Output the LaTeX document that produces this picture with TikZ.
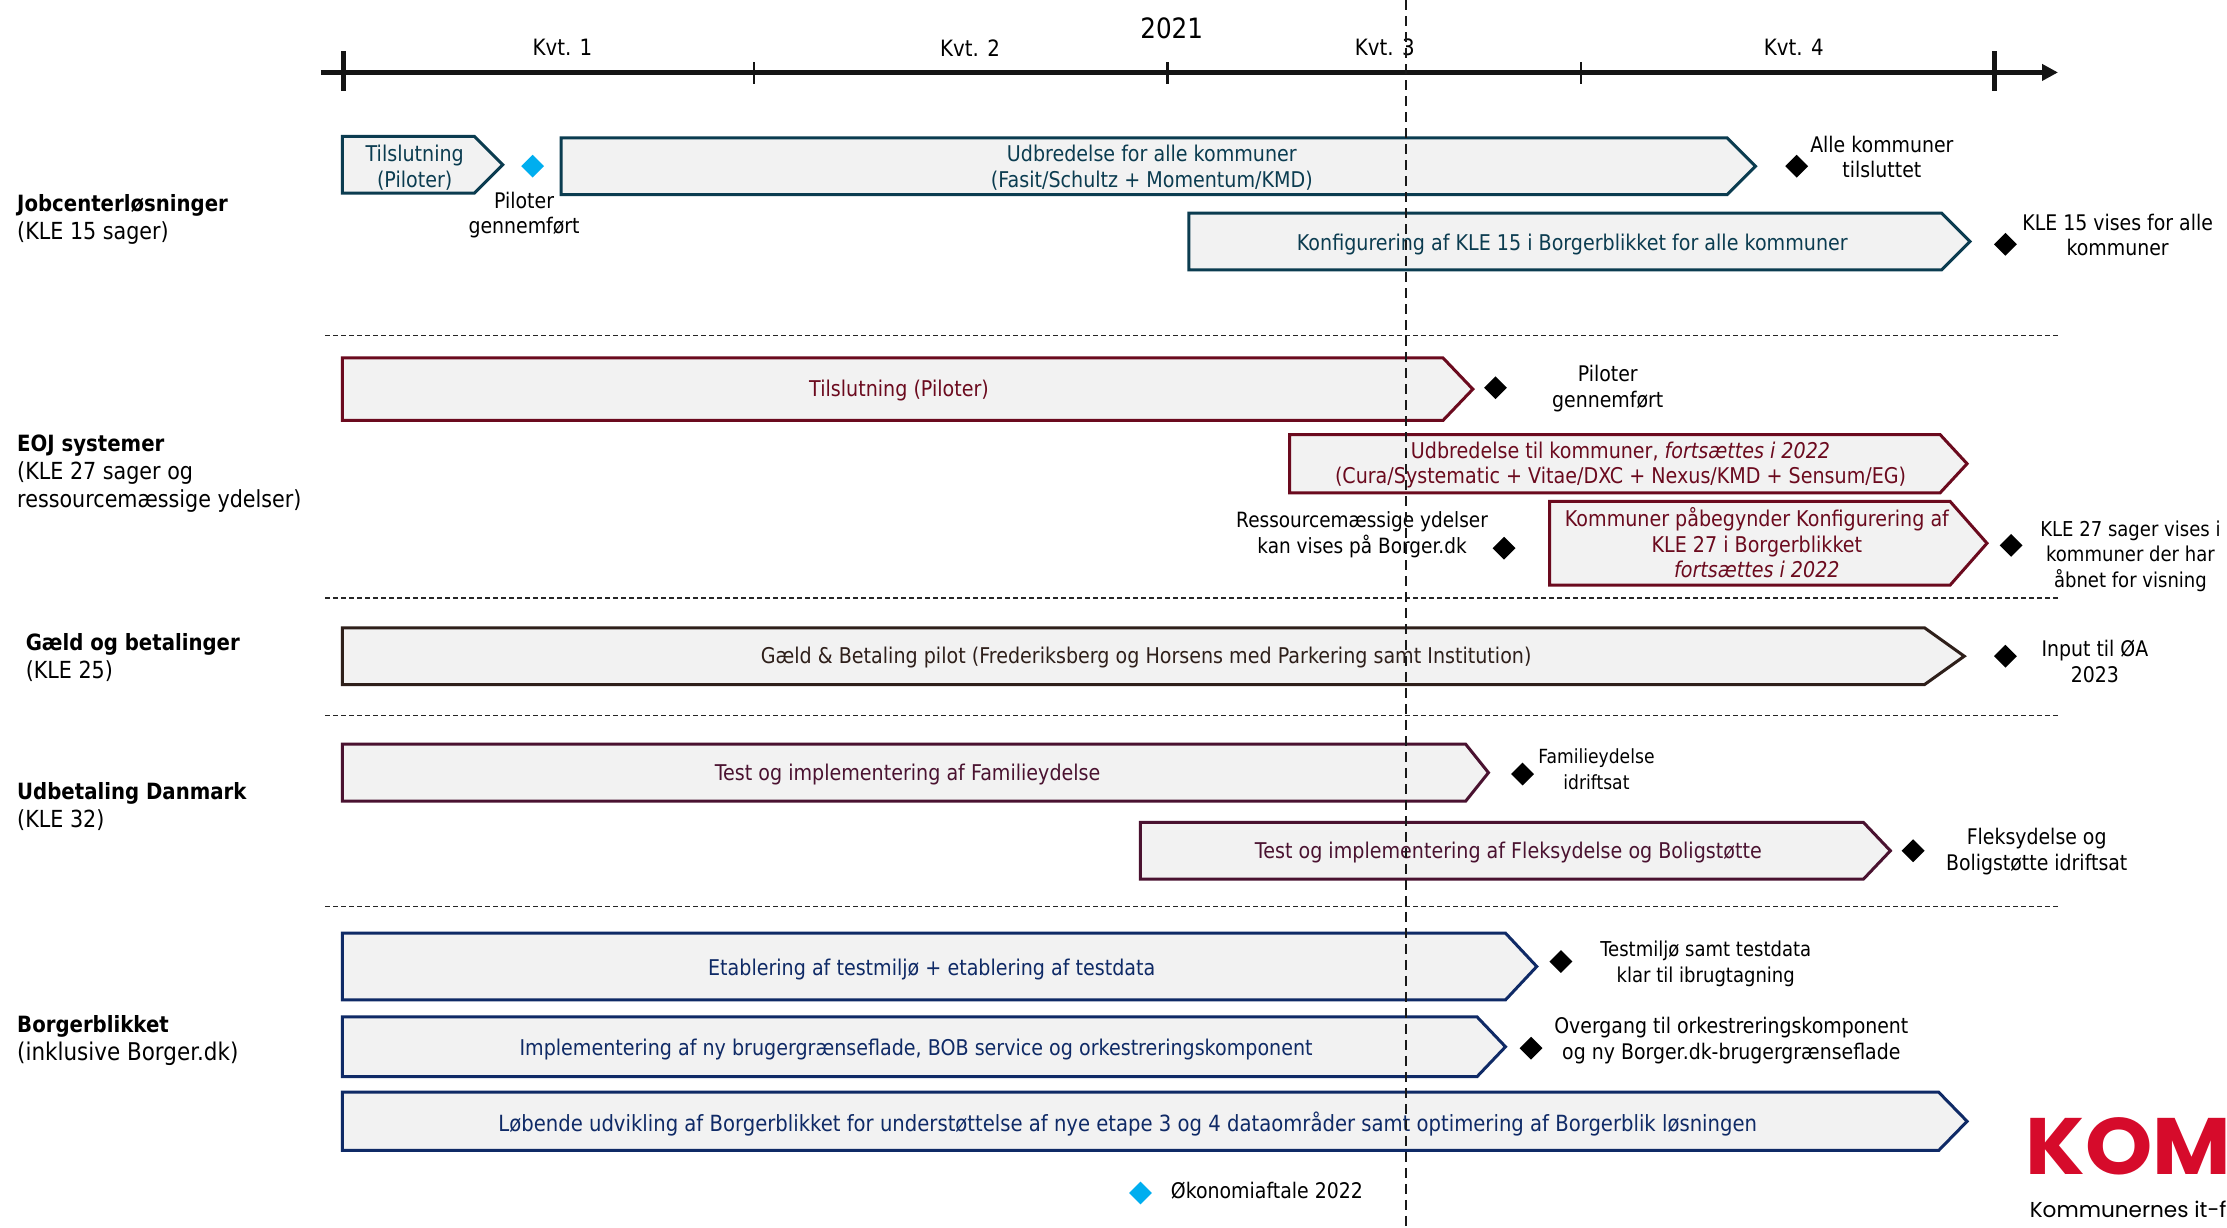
\documentclass[tikz,border=0pt]{standalone}
\usepackage{fontspec}
\setmainfont{DejaVu Sans}[FakeStretch=0.88]
\newfontfamily\logofont{Poppins}[FakeStretch=1.07]
\newfontfamily\logosubfont{Poppins}
\definecolor{cteal}{HTML}{0B3C50}
\definecolor{cred}{HTML}{6B0A1E}
\definecolor{cbrown}{HTML}{2E1F1A}
\definecolor{cplum}{HTML}{4A1230}
\definecolor{cnavy}{HTML}{0F2A66}
\definecolor{cgrey}{HTML}{F2F2F2}
\definecolor{cblue}{HTML}{00AEEF}
\definecolor{clogo}{HTML}{D60B2B}
\usetikzlibrary{shapes.geometric,arrows.meta}
\tikzset{
  x=1.4203pt,y=-1.4203pt,
  base/.style={font=\fontsize{21.5}{25.6}\selectfont,align=center,inner sep=0pt,text=black,yshift=-0.8pt},
  smalltext/.style={base,font=\fontsize{19.5}{25.6}\selectfont},
  midtext/.style={base,font=\fontsize{20.5}{25.6}\selectfont},
  lefttext/.style={base,align=left,anchor=west,font=\fontsize{23.5}{28}\selectfont,yshift=-1.5pt},
  kvt/.style={base,font=\fontsize{22.5}{26}\selectfont,yshift=0pt},
  bartext/.style={base,font=\fontsize{21.7}{25.6}\selectfont,yshift=-1pt},
  barshape/.style={line width=3pt,fill=cgrey,line join=miter},
  milestone/.style={diamond,fill=black,minimum width=23pt,minimum height=23pt,inner sep=0pt},
  divider/.style={dash pattern=on 5pt off 3pt,line width=1.2pt,black!85},
}
\newcommand{\lhead}[1]{{\fontsize{22.4}{28}\selectfont\textbf{#1}}}
% #1 name, #2 x1, #3 y1, #4 shoulder x, #5 tip x, #6 y2, #7 colour, #8 text centre, #9 text
\newcommand{\roadbar}[9]{%
  \draw[barshape,draw=#7] (#2,#3) -- (#4,#3) -- (#5,{(#3+#6)/2}) -- (#4,#6) -- (#2,#6) -- cycle;
  \node[bartext,text=#7] (#1) at (#8) {#9};
}
\begin{document}
\begin{tikzpicture}
\useasboundingbox (0,0) rectangle (1568,864);
\clip (0,0) rectangle (1568,864);
\fill[white] (0,0) rectangle (1568,864);
% axis
\coordinate (axisL) at (226,51);
\coordinate (axisR) at (1449,51);
\draw[line width=5pt,-{Triangle[length=16pt,width=16pt]},black!92] (axisL) -- (axisR);
\foreach \x in {242,1404} \draw[line width=5pt,black!92] (\x,36) -- (\x,64);
\foreach \x in {531,822,1113} \draw[line width=2.4pt,black!92] (\x,44) -- (\x,59);
\node[kvt] (k1) at (396,33) {Kvt. 1};
\node[kvt] (k2) at (683,33) {Kvt. 2};
\node[kvt] (k3) at (975,33) {Kvt. 3};
\node[kvt] (k4) at (1263,33) {Kvt. 4};
\node[base,font=\fontsize{28}{30}\selectfont,yshift=1pt] (year) at (825,20) {2021};
% dividers
\foreach \y in {236,421,504,638} \draw[divider] (229,\y) -- (1450,\y);
% left labels
\node[lefttext] (l1) at (12,153) {\lhead{Jobcenterløsninger}\\(KLE 15 sager)};
\node[lefttext] (l2) at (12,332) {\lhead{EOJ systemer}\\(KLE 27 sager og\\ressourcemæssige ydelser)};
\node[lefttext] (l3) at (18,461) {\lhead{Gæld og betalinger}\\(KLE 25)};
\node[lefttext] (l4) at (12,566) {\lhead{Udbetaling Danmark}\\(KLE 32)};
\node[lefttext] (l5) at (12,731) {\lhead{Borgerblikket}\\{\fontsize{24.4}{28}\selectfont (inklusive Borger.dk)}};
% bars
\roadbar{b1}{241}{96}{334}{354}{136}{cteal}{292,117}{Tilslutning\\(Piloter)}
\roadbar{b2}{395}{97}{1216}{1236}{137}{cteal}{811,117}{Udbredelse for alle kommuner\\(Fasit/Schultz + Momentum/KMD)}
\roadbar{b3}{837}{150}{1367}{1387}{190}{cteal}{1107,171}{Konfigurering af KLE 15 i Borgerblikket for alle kommuner}
\roadbar{b4}{241}{252}{1016}{1037}{296}{cred}{633,274}{Tilslutning (Piloter)}
\roadbar{b5}{908}{306}{1366}{1385}{347}{cred}{1141,326}{Udbredelse til kommuner, \textit{fortsættes i 2022}\\(Cura/Systematic + Vitae/DXC + Nexus/KMD + Sensum/EG)}
\roadbar{b6}{1091}{353}{1373}{1399}{412}{cred}{1237,381}{Kommuner påbegynder Konfigurering af\\KLE 27 i Borgerblikket\\\textit{fortsættes i 2022}}
\roadbar{b7}{241}{442}{1355}{1383}{482}{cbrown}{807,462}{Gæld \& Betaling pilot (Frederiksberg og Horsens med Parkering samt Institution)}
\roadbar{b8}{241}{524}{1032}{1048}{564}{cplum}{639,544}{Test og implementering af Familieydelse}
\roadbar{b9}{803}{579}{1312}{1331}{619}{cplum}{1062,599}{Test og implementering af Fleksydelse og Boligstøtte}
\roadbar{b10}{241}{657}{1060}{1082}{704}{cnavy}{656,681}{Etablering af testmiljø + etablering af testdata}
\roadbar{b11}{241}{716}{1040}{1060}{758}{cnavy}{645,738}{Implementering af ny brugergrænseflade, BOB service og orkestreringskomponent}
\roadbar{b12}{241}{769}{1365}{1385}{810}{cnavy}{794,790}{{\fontsize{22.3}{25.6}\selectfont Løbende udvikling af Borgerblikket for understøttelse af nye etape 3 og 4 dataområder samt optimering af Borgerblik løsningen}}
% milestones
\node[milestone,fill=cblue] (m1) at (375,117) {};
\node[milestone] (m2) at (1265,117) {};
\node[milestone] (m3) at (1412,172) {};
\node[milestone] (m4) at (1053,273) {};
\node[milestone] (m5) at (1059,386) {};
\node[milestone] (m6) at (1416,384) {};
\node[milestone] (m7) at (1412,462) {};
\node[milestone] (m8) at (1072,545) {};
\node[milestone] (m9) at (1347,599) {};
\node[milestone] (m10) at (1099,677) {};
\node[milestone] (m11) at (1078,738) {};
\node[milestone,fill=cblue] (m12) at (803,840) {};
% milestone labels
\node[base] (t1) at (369,151) {Piloter\\gennemført};
\node[base] (t2) at (1325,110) {Alle kommuner\\tilsluttet};
\node[base] (t3) at (1491,165) {KLE 15 vises for alle\\kommuner};
\node[base] (t4) at (1132,273) {Piloter\\gennemført};
\node[base,font=\fontsize{21}{25.6}\selectfont] (t5) at (959,376) {Ressourcemæssige ydelser\\kan vises på Borger.dk};
\node[midtext] (t6) at (1500,391) {KLE 27 sager vises i\\kommuner der har\\åbnet for visning};
\node[base] (t7) at (1475,465) {Input til ØA\\2023};
\node[smalltext] (t8) at (1124,541) {Familieydelse\\idriftsat};
\node[base] (t9) at (1434,599) {Fleksydelse og\\Boligstøtte idriftsat};
\node[midtext] (t10) at (1201,678) {Testmiljø samt testdata\\klar til ibrugtagning};
\node[base] (t11) at (1219,732) {Overgang til orkestreringskomponent\\og ny Borger.dk-brugergrænseflade};
\node[base] (t12) at (892,838) {Økonomiaftale 2022};
% logo
\node[anchor=base west,inner sep=0pt,text=clogo,font=\logofont\fontsize{80}{80}\selectfont\bfseries] (logo) at (1426,827) {KOM};
\node[anchor=base west,inner sep=0pt,font=\logosubfont\fontsize{21.6}{24}\selectfont] (logosub) at (1429,857) {Kommunernes it-f};
% current date line
\coordinate (nowT) at (990,0);
\coordinate (nowB) at (990,864);
\draw[line width=1.6pt,dash pattern=on 10pt off 6pt,black!90] (nowT) -- (nowB);
\end{tikzpicture}
\end{document}
